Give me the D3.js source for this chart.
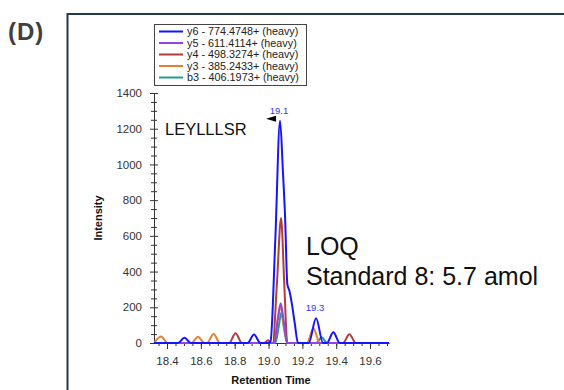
<!DOCTYPE html>
<html lang="en">
<head>
  <meta charset="UTF-8">
  <title>LEYLLLSR chromatogram</title>
  <script src="https://d3js.org/d3.v7.min.js"></script>
  <style>
    body {
      margin: 0;
      padding: 0;
      background: #fff;
      font-family: "Liberation Sans", Arial, sans-serif;
    }
    .tick text {
      font-family: "Liberation Sans", Arial, sans-serif;
      font-size: 11.5px;
      fill: #333;
    }
    .axis path, .axis line {
      stroke: #333;
    }
  </style>
</head>
<body>
<div id="chart"></div>
<script>
  // transitions, in legend order
  const traceNames = [
    "y6 - 774.4748+ (heavy)",
    "y5 - 611.4114+ (heavy)",
    "y4 - 498.3274+ (heavy)",
    "y3 - 385.2433+ (heavy)",
    "b3 - 406.1973+ (heavy)"
  ];
  const traceColors = ["#1414ff", "#9444e0", "#b03c3c", "#e38236", "#1f9e8e"];

  // [retention time, intensity]
  const y6Points = [[18.323,0],[18.465,0],[18.503,30],[18.541,0],[18.876,0],[18.914,48],[18.952,0],
    [19.0,0],[19.012,10],[19.04,580],[19.068,1245],[19.085,960],[19.098,700],[19.111,330],
    [19.124,290],[19.137,225],[19.155,110],[19.174,0],[19.238,0],[19.281,138],[19.322,0],
    [19.345,0],[19.383,60],[19.421,0],[19.712,0]];
  const y5Points = [[18.323,0],[19.035,0],[19.055,140],[19.072,222],[19.09,120],[19.11,0],[19.712,0]];
  const y4Points = [[18.323,0],[18.767,0],[18.805,55],[18.843,0],[18.975,0],[18.997,15],[19.016,0],
    [19.025,0],[19.05,340],[19.074,700],[19.093,330],[19.111,0],[19.44,0],[19.478,49],
    [19.516,0],[19.712,0]];
  const y3Points = [[18.323,0],[18.365,36],[18.403,0],[18.545,0],[18.583,35],[18.621,0],[18.637,0],
    [18.675,50],[18.713,0],[19.03,0],[19.052,110],[19.072,205],[19.09,100],[19.115,0],
    [19.227,0],[19.265,82],[19.303,0],[19.712,0]];
  const b3Points = [[18.323,0],[19.04,0],[19.06,90],[19.075,170],[19.092,80],[19.11,0],
    [19.282,0],[19.314,32],[19.346,0],[19.712,0]];
  const traces = [y6Points, y5Points, y4Points, y3Points, b3Points];

  const xLabelTicks = [18.4, 18.6, 18.8, 19.0, 19.2, 19.4, 19.6];
  const yLabelTicks = [0, 200, 400, 600, 800, 1000, 1200, 1400];
  const peakLabels = [{t: 19.068, v: 1245, text: "19.1"}, {t: 19.281, v: 138, text: "19.3"}];

  const width = 564, height = 390;

  const svg = d3.select("#chart").append("svg")
    .attr("width", width)
    .attr("height", height);

  const x = d3.scaleLinear().domain([18.323, 19.712]).range([154, 389]);
  const y = d3.scaleLinear().domain([0, 1400]).range([343, 93]);

  // panel frame
  svg.append("path")
    .attr("d", `M67.5,${height} V14 H${width}`)
    .attr("fill", "none")
    .attr("stroke", "#21394a")
    .attr("stroke-width", 2);

  svg.append("text")
    .attr("x", 8).attr("y", 40)
    .style("font-family", "'Liberation Sans', Arial, sans-serif")
    .style("font-size", "24px")
    .style("font-weight", "bold")
    .style("letter-spacing", "1px")
    .attr("fill", "#404040")
    .text("(D)");

  // x axis
  const xMinor = d3.range(18.35, 19.71, 0.05).map(d => +d.toFixed(2));
  svg.append("g").attr("class", "axis")
    .attr("transform", `translate(0,${y(0)})`)
    .call(d3.axisBottom(x).tickValues(xMinor).tickSize(3).tickSizeOuter(0).tickFormat(""))
    .call(g => g.select(".domain").remove());
  svg.append("g").attr("class", "axis")
    .attr("transform", `translate(0,${y(0)})`)
    .call(d3.axisBottom(x).tickValues(xLabelTicks).tickSize(6).tickSizeOuter(0)
      .tickPadding(8).tickFormat(d3.format(".1f")));

  // y axis
  const yMinor = d3.range(0, 1401, 50).filter(d => d % 200 !== 0);
  svg.append("g").attr("class", "axis")
    .attr("transform", `translate(${x.range()[0]},0)`)
    .call(d3.axisLeft(y).tickValues(yMinor).tickSize(3).tickFormat(""))
    .call(g => g.select(".domain").remove())
    .call(g => g.selectAll(".tick line").attr("x1", 3));
  svg.append("g").attr("class", "axis")
    .attr("transform", `translate(${x.range()[0]},0)`)
    .call(d3.axisLeft(y).tickValues(yLabelTicks).tickSize(4).tickSizeOuter(0)
      .tickPadding(8).tickFormat(d3.format("d")))
    .call(g => g.selectAll(".tick line").attr("x1", 4));

  // axis titles
  svg.append("text")
    .attr("transform", "translate(102,218) rotate(-90)")
    .attr("text-anchor", "middle")
    .style("font-size", "11px").style("font-weight", "bold")
    .attr("fill", "#111")
    .text("Intensity");
  svg.append("text")
    .attr("x", 271).attr("y", 384)
    .attr("text-anchor", "middle")
    .style("font-size", "11px").style("font-weight", "bold")
    .attr("fill", "#111")
    .text("Retention Time");

  // traces, drawn back to front so y6 ends on top
  const line = d3.line()
    .x(d => x(d[0]))
    .y(d => y(d[1]))
    .curve(d3.curveMonotoneX);

  svg.append("g")
    .selectAll("path")
    .data(traces.map((pts, i) => ({pts, i})).reverse())
    .join("path")
    .attr("d", d => line(d.pts))
    .attr("fill", "none")
    .attr("stroke", d => traceColors[d.i])
    .attr("stroke-width", 2)
    .attr("stroke-linejoin", "round");

  // peak labels
  svg.selectAll(".peakLabel")
    .data(peakLabels)
    .join("text")
    .attr("class", "peakLabel")
    .attr("x", d => x(d.t) - 1)
    .attr("y", d => y(d.v) - 7)
    .attr("text-anchor", "middle")
    .style("font-size", "9.5px")
    .attr("fill", "#3535ff")
    .text(d => d.text);

  // retention time marker
  const mx = x(peakLabels[0].t) - 4, my = y(peakLabels[0].v) - 2;
  svg.append("path")
    .attr("d", `M${mx - 10},${my} L${mx},${my - 3} L${mx},${my + 3} Z`)
    .attr("fill", "#000");

  // legend
  const legend = svg.append("g");
  legend.append("rect")
    .attr("x", 154.5).attr("y", 24.5)
    .attr("width", 152).attr("height", 61)
    .attr("fill", "#fff")
    .attr("stroke", "#444");
  const rows = legend.selectAll(".row")
    .data(traceNames)
    .join("g")
    .attr("transform", (d, i) => `translate(0,${31.5 + i * 11.5})`);
  rows.append("line")
    .attr("x1", 159).attr("x2", 183)
    .attr("stroke", (d, i) => traceColors[i])
    .attr("stroke-width", 2);
  rows.append("text")
    .attr("x", 187).attr("y", 3.8)
    .style("font-size", "10.8px")
    .attr("fill", "#222")
    .text(d => d);

  // annotations
  svg.append("text")
    .attr("x", 165).attr("y", 135)
    .style("font-size", "16.5px")
    .attr("fill", "#111")
    .text("LEYLLLSR");
  svg.append("text")
    .attr("x", 306).attr("y", 255)
    .style("font-size", "25px")
    .attr("fill", "#111")
    .text("LOQ");
  svg.append("text")
    .attr("x", 306).attr("y", 285)
    .style("font-size", "25px")
    .attr("fill", "#111")
    .text("Standard 8: 5.7 amol");
</script>
</body>
</html>
